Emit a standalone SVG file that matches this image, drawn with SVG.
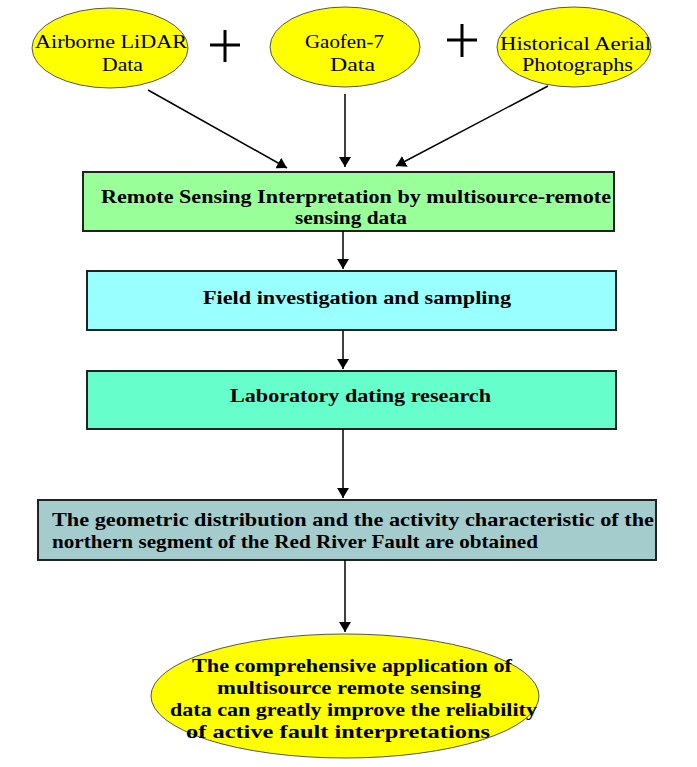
<svg xmlns="http://www.w3.org/2000/svg" width="697" height="767" viewBox="0 0 697 767">
<defs>
<marker id="ah" markerWidth="10" markerHeight="12" refX="10" refY="6" orient="auto" markerUnits="userSpaceOnUse"><path d="M0,0 L10,6 L0,12 z" fill="#000"/></marker>
<style>
.e{fill:#ffff00;stroke:#555;stroke-width:1}
.b{stroke:#222;stroke-width:2}
.t{font-family:"Liberation Serif",serif;font-size:19px;fill:#000}
.tb{font-family:"Liberation Serif",serif;font-size:19px;font-weight:bold;fill:#000}
.c{stroke:#000;stroke-width:1.5;fill:none;marker-end:url(#ah)}
</style>
</defs>
<rect width="697" height="767" fill="#fff"/>
<g id="n1"><ellipse class="e" cx="110" cy="48" rx="78" ry="40"/><text class="t" x="35" y="48" textLength="152" lengthAdjust="spacingAndGlyphs">Airborne LiDAR</text><text class="t" x="102" y="71" textLength="41" lengthAdjust="spacingAndGlyphs">Data</text></g>
<g id="n2"><ellipse class="e" cx="345" cy="47" rx="75" ry="40"/><text class="t" x="305" y="48" textLength="79" lengthAdjust="spacingAndGlyphs">Gaofen-7</text><text class="t" x="330" y="71" textLength="45" lengthAdjust="spacingAndGlyphs">Data</text></g>
<g id="n3"><ellipse class="e" cx="574" cy="47" rx="77" ry="40"/><text class="t" x="500" y="50" textLength="151" lengthAdjust="spacingAndGlyphs">Historical Aerial</text><text class="t" x="522" y="71" textLength="111" lengthAdjust="spacingAndGlyphs">Photographs</text></g>
<g id="plus" stroke="#000" stroke-width="3"><path d="M210,45 H240 M225,30 V62"/><path d="M447,40 H477 M462,24 V57"/></g>
<g id="n4"><rect class="b" x="83" y="172" width="531" height="59" fill="#99ff99"/><text class="tb" x="101" y="203" textLength="510" lengthAdjust="spacingAndGlyphs">Remote Sensing Interpretation by multisource-remote</text><text class="tb" x="295" y="224" textLength="112" lengthAdjust="spacingAndGlyphs">sensing data</text></g>
<g id="n5"><rect class="b" x="87" y="271" width="529" height="59" fill="#99ffff"/><text class="tb" x="203" y="304" textLength="308" lengthAdjust="spacingAndGlyphs">Field investigation and sampling</text></g>
<g id="n6"><rect class="b" x="87" y="371" width="529" height="58" fill="#66ffcc"/><text class="tb" x="230" y="402" textLength="261" lengthAdjust="spacingAndGlyphs">Laboratory dating research</text></g>
<g id="n7"><rect class="b" x="38" y="500" width="618" height="60" fill="#a4cccc"/><text class="tb" x="52" y="526" textLength="602" lengthAdjust="spacingAndGlyphs">The geometric distribution and the activity characteristic of the</text><text class="tb" x="52" y="548" textLength="486" lengthAdjust="spacingAndGlyphs">northern segment of the Red River Fault are obtained</text></g>
<g id="n8"><ellipse class="e" cx="345" cy="696" rx="194" ry="62"/><text class="tb" x="192" y="672" textLength="320" lengthAdjust="spacingAndGlyphs">The comprehensive application of</text><text class="tb" x="217" y="694" textLength="264" lengthAdjust="spacingAndGlyphs">multisource remote sensing</text><text class="tb" x="170" y="716" textLength="367" lengthAdjust="spacingAndGlyphs">data can greatly improve the reliability</text><text class="tb" x="186" y="738" textLength="304" lengthAdjust="spacingAndGlyphs">of active fault interpretations</text></g>
<g id="connectors">
<line class="c" x1="148" y1="90" x2="287" y2="168"/>
<line class="c" x1="345" y1="94" x2="345" y2="167"/>
<line class="c" x1="548" y1="86" x2="396" y2="166"/>
<line class="c" x1="343" y1="231" x2="343" y2="269"/>
<line class="c" x1="343" y1="330" x2="343" y2="369"/>
<line class="c" x1="343" y1="429" x2="343" y2="498"/>
<line class="c" x1="345" y1="560" x2="345" y2="632"/>
</g>
</svg>
